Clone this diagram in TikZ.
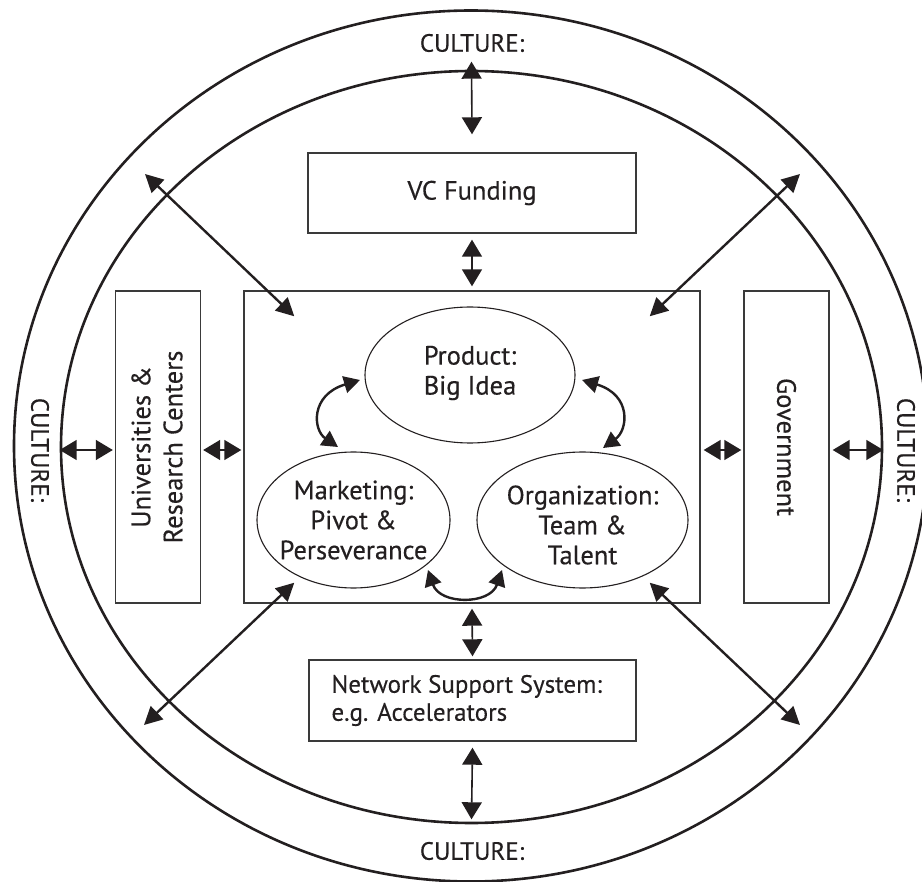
\documentclass[tikz,border=0pt]{standalone}
\usepackage{fontspec}
\setmainfont{PT Sans}[FakeBold=0.35]
\usetikzlibrary{arrows.meta,shapes.geometric}
\definecolor{ink}{HTML}{231F20}
\definecolor{boxline}{HTML}{3A3A3A}
\begin{document}
\begin{tikzpicture}[x=1pt,y=-1pt,
  every node/.style={font=\fontsize{26.5}{30}\selectfont, text=ink},
  ring/.style={draw=ink, line width=2.6pt, ellipse, inner sep=0pt},
  box/.style={draw=boxline, line width=1.4pt, rectangle, inner sep=0pt},
  oval/.style={draw=ink, line width=1.1pt, ellipse, inner sep=0pt},
  txt/.style={align=center, inner sep=0pt},
  cult/.style={txt, font=\fontsize{25}{30}\selectfont},
  vv/.style={draw=ink, line width=1.6pt, >={Triangle[length=17pt,width=20pt]}, <->},
  dd/.style={draw=ink, line width=2.4pt, >={Triangle[length=18pt,width=18pt]}, <->},
  cc/.style={draw=ink, line width=2.4pt, >={Triangle[length=16pt,width=17pt]}, <->}
]
\useasboundingbox (0,0) rectangle (922,882);
\clip (0,0) rectangle (922,882);

% rings
\node[ring, minimum width=914pt, minimum height=871pt] (outer) at (471,446) {};
\node[ring, minimum width=821pt, minimum height=752pt] (inner) at (471.5,447) {};

% culture labels
\node[cult] (cTop) at (472,43) {CULTURE:};
\node[cult] (cBot) at (472,851) {CULTURE:};
\node[cult, rotate=-90] (cLeft) at (40,450) {CULTURE:};
\node[cult, rotate=-90] (cRight) at (906,450) {CULTURE:};

% boxes
\node[box, minimum width=328pt, minimum height=80pt] (vc) at (472,193) {};
\node[txt] (vcT) at (vc.center) {VC Funding};
\node[box, minimum width=456pt, minimum height=312pt] (main) at (472,447) {};
\node[box, minimum width=85pt, minimum height=312pt] (univ) at (158,447) {};
\node[txt, rotate=90, font=\fontsize{26.5}{32}\selectfont] (univT) at (157,447) {Universities \&\\Research Centers};
\node[box, minimum width=85pt, minimum height=312pt] (gov) at (786.5,447) {};
\node[txt, rotate=-90] (govT) at (gov.center) {Government};
\node[box, minimum width=327pt, minimum height=81pt] (net) at (472.5,700.5) {};
\node[txt, align=left, anchor=west, font=\fontsize{25}{28}\selectfont] (netT) at ([xshift=23pt]net.west) {Network Support System:\\e.g. Accelerators};

% ellipses
\node[oval, minimum width=210pt, minimum height=136pt] (prod) at (470,375) {};
\node[txt] (prodT) at (470,373) {Product:\\Big Idea};
\node[oval, minimum width=193pt, minimum height=136pt] (mkt) at (353.5,520) {};
\node[txt] (mktT) at (353.5,520) {Marketing:\\Pivot \&\\Perseverance};
\node[oval, minimum width=211pt, minimum height=136pt] (org) at (582.5,520) {};
\node[txt] (orgT) at (582.5,525) {Organization:\\Team \&\\Talent};

% vertical arrows
\coordinate (topIn) at ([yshift=8pt]inner.north);
\coordinate (botIn) at ([yshift=5pt]inner.south);
\draw[vv] (topIn) -- ([yshift=18pt]vc.north);
\draw[vv] ([yshift=-6pt]vc.south) -- ([yshift=4pt]main.north);
\draw[vv] ([yshift=-5pt]main.south) -- ([yshift=3pt]net.north);
\draw[vv] ([yshift=-6pt]net.south) -- (botIn);

% horizontal arrows
\coordinate (hy) at (0,450);
\draw[vv] (inner.west |- hy) -- ([xshift=-2pt]univ.west |- hy);
\draw[vv] ([xshift=2pt]univ.east |- hy) -- ([xshift=-2pt]main.west |- hy);
\draw[vv] ([xshift=3pt]main.east |- hy) -- ([xshift=-2pt]gov.west |- hy);
\draw[vv] ([xshift=3pt]gov.east |- hy) -- (inner.east |- hy);

% diagonal arrows
\coordinate (tlOut) at (145,174);
\coordinate (trOut) at (800,174);
\coordinate (blOut) at (144,725);
\coordinate (brOut) at (800,725);
\coordinate (tlIn) at ([shift={(51,26)}]main.north west);
\coordinate (trIn) at ([shift={(-51,26)}]main.north east);
\coordinate (blIn) at ([shift={(51,-21)}]main.south west);
\coordinate (brIn) at ([shift={(-51,-21)}]main.south east);
\draw[dd] (tlOut) -- (tlIn);
\draw[dd] (trOut) -- (trIn);
\draw[dd] (blOut) -- (blIn);
\draw[dd] (brOut) -- (brIn);

% curved arrows between ellipses
\coordinate (mktTop) at (338,447);
\coordinate (prodL) at (360,380);
\coordinate (orgTop) at (603,448);
\coordinate (prodR) at (582,380);
\coordinate (mktB) at (428,570);
\coordinate (orgB) at (502,570);
\draw[cc] (mktTop) .. controls (313,430) and (310,395) .. (prodL);
\draw[cc] (orgTop) .. controls (628,430) and (632,395) .. (prodR);
\draw[cc] (mktB) .. controls (440,605) and (490,605) .. (orgB);
\end{tikzpicture}
\end{document}
